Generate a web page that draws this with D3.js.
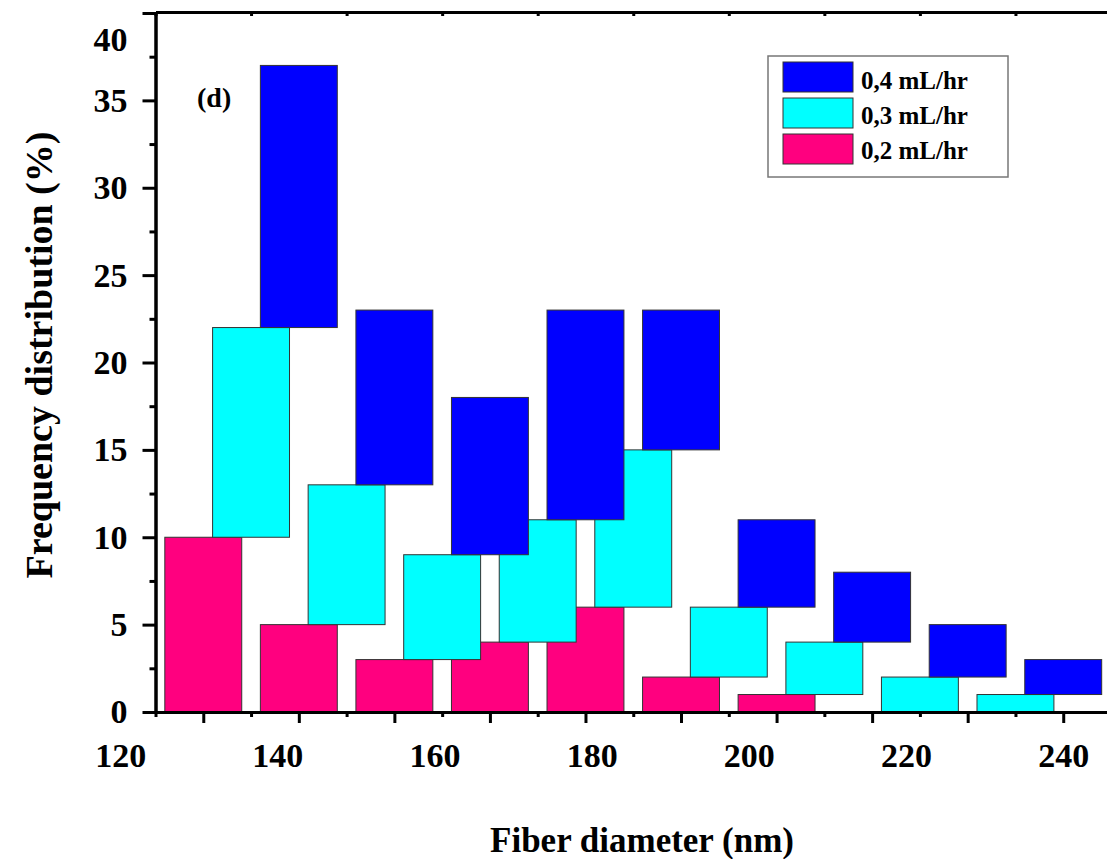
<!DOCTYPE html>
<html>
<head>
<meta charset="utf-8">
<script src="https://cdn.jsdelivr.net/npm/d3@7"></script>
<style>
  html, body { margin: 0; padding: 0; background: #fff; }
  svg { display: block; font-family: "Liberation Serif", "Times New Roman", serif; font-weight: bold; }
</style>
</head>
<body>
<svg id="chart" width="1107" height="859"></svg>
<script>
// ---- data ----
const binIndex = [0, 1, 2, 3, 4, 5, 6, 7, 8];          // diameter bins (left to right)
const rate02 = [10, 5, 3, 4, 6, 2, 1, 0, 0];            // 0,2 mL/hr (%)
const rate03 = [12, 8, 6, 7, 9, 4, 3, 2, 1];            // 0,3 mL/hr (%)
const rate04 = [15, 10, 9, 12, 8, 5, 4, 3, 2];          // 0,4 mL/hr (%)
const seriesNames = ["0,2 mL/hr", "0,3 mL/hr", "0,4 mL/hr"];
const seriesColors = ["#FF007F", "#00FFFF", "#0000FF"];
const seriesShift = [0, 0.5, 1];                         // offset of each series, in bins
const xTickLabels = [120, 140, 160, 180, 200, 220, 240];
const yTickValues = [0, 5, 10, 15, 20, 25, 30, 35, 40];
const yMinorValues = [2.5, 7.5, 12.5, 17.5, 22.5, 27.5, 32.5, 37.5];

// ---- layout ----
const svg = d3.select("#chart");
const x0 = 155.5, x1 = 1111, yBottom = 712, yTop = 13;

const x = d3.scaleLinear().domain([-0.5, 9.5]).range([x0, x1]);
const xLabel = d3.scaleLinear().domain([120, 240]).range([x(-0.87), x(9)]);
const y = d3.scaleLinear().domain([0, 40]).range([yBottom, yTop]);
const barW = (x(1) - x(0)) * 0.805;

// stacked table
const table = binIndex.map((b, i) => ({ bin: b, s0: rate02[i], s1: rate03[i], s2: rate04[i] }));
const stacked = d3.stack().keys(["s0", "s1", "s2"])(table);

// ---- bars ----
stacked.forEach((layer, k) => {
  svg.append("g")
    .selectAll("rect")
    .data(layer.filter(d => d[1] - d[0] > 0))
    .join("rect")
    .attr("x", d => x(d.data.bin + seriesShift[k]) - barW / 2)
    .attr("width", barW)
    .attr("y", d => y(d[1]))
    .attr("height", d => y(d[0]) - y(d[1]))
    .attr("fill", seriesColors[k])
    .attr("stroke", "#333")
    .attr("stroke-width", 1);
});

// ---- axes ----
const axisStyle = g => {
  g.selectAll(".domain").attr("stroke", "#000").attr("stroke-width", 3);
  g.selectAll(".tick line").attr("stroke", "#000").attr("stroke-width", 3);
};

// bottom axis: major ticks at bin centres, minor ticks between
const majorX = d3.range(0, 10);
const minorX = d3.range(-0.5, 10, 1);
svg.append("g").attr("transform", `translate(0,${yBottom})`)
  .call(d3.axisBottom(x).tickValues(minorX).tickSize(5).tickSizeOuter(0).tickFormat(""))
  .call(axisStyle);
svg.append("g").attr("transform", `translate(0,${yBottom})`)
  .call(d3.axisBottom(x).tickValues(majorX).tickSize(11).tickSizeOuter(0).tickFormat(""))
  .call(axisStyle);

// bottom tick labels
const xl = svg.append("g").attr("transform", `translate(0,${yBottom})`)
  .call(d3.axisBottom(xLabel).tickValues(xTickLabels).tickSize(0).tickPadding(31));
xl.select(".domain").remove();
xl.selectAll("text").attr("font-size", 34).attr("font-family", "Liberation Serif").attr("font-weight", "bold").attr("fill", "#000");

// top axis with small inward ticks
svg.append("g").attr("transform", `translate(0,${yTop - 1})`)
  .call(d3.axisBottom(x).tickValues(minorX).tickSize(4).tickSizeOuter(0).tickFormat(""))
  .call(axisStyle);

// left axis
svg.append("g").attr("transform", `translate(${x0},0)`)
  .call(d3.axisLeft(y).tickValues(yMinorValues).tickSize(6).tickSizeOuter(0).tickFormat(""))
  .call(axisStyle);
const ya = svg.append("g").attr("transform", `translate(${x0},0)`)
  .call(d3.axisLeft(y).tickValues(yTickValues).tickSize(13).tickSizeOuter(0).tickPadding(15))
  .call(axisStyle);
ya.selectAll("text").attr("font-size", 34).attr("font-family", "Liberation Serif").attr("font-weight", "bold").attr("fill", "#000");
ya.selectAll(".tick").filter(d => d === 40).select("text").attr("transform", "translate(0,27)");

// ---- titles ----
svg.append("text")
  .attr("x", 642).attr("y", 852)
  .attr("text-anchor", "middle")
  .attr("font-size", 35)
  .text("Fiber diameter (nm)");

svg.append("text")
  .attr("transform", "translate(52,355) rotate(-90)")
  .attr("text-anchor", "middle")
  .attr("font-size", 38)
  .text("Frequency distribution (%)");

svg.append("text")
  .attr("x", 197).attr("y", 107)
  .attr("font-size", 28)
  .text("(d)");

// ---- legend ----
const legend = svg.append("g");
legend.append("rect")
  .attr("x", 768).attr("y", 56).attr("width", 240).attr("height", 121)
  .attr("fill", "#fff").attr("stroke", "#777").attr("stroke-width", 1.5);
const legendOrder = [2, 1, 0];
legendOrder.forEach((k, r) => {
  legend.append("rect")
    .attr("x", 783).attr("y", 62 + r * 36).attr("width", 70).attr("height", 30)
    .attr("fill", seriesColors[k]).attr("stroke", "#333").attr("stroke-width", 1);
  legend.append("text")
    .attr("x", 861).attr("y", 89 + r * 35)
    .attr("font-size", 25)
    .text(seriesNames[k]);
});
</script>
</body>
</html>
